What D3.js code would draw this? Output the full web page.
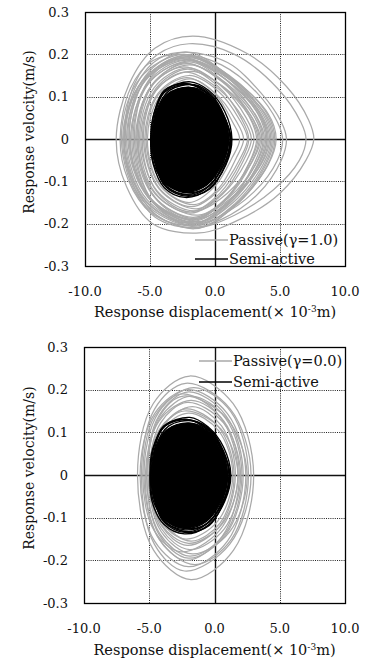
<!DOCTYPE html>
<html><head><meta charset="utf-8">
<script src="https://cdn.jsdelivr.net/npm/d3@7"></script>
<style>
body{margin:0;background:#fff}
svg{display:block}
text{font-family:"DejaVu Serif","Liberation Serif",serif;fill:#111}
</style>
</head><body>
<svg id="c" width="369" height="664"></svg>
<script>
// ---------- data (displacement x10^-3 m, velocity m/s) ----------
const xTicks = [-10, -5, 0, 5, 10];
const xTickLabels = ["-10.0", "-5.0", "0.0", "5.0", "10.0"];
const yTicks = [0.3, 0.2, 0.1, 0, -0.1, -0.2, -0.3];
const yTickLabels = ["0.3", "0.2", "0.1", "0", "-0.1", "-0.2", "-0.3"];
const xTitle = "Response displacement(";
const yTitle = "Response velocity(m/s)";
const legendTop = ["Passive(γ=1.0)", "Semi-active"];
const legendBottom = ["Passive(γ=0.0)", "Semi-active"];

// Passive (gamma = 1.0) orbit loops, top panel
const topPassiveLoops = [
  [[-7.6,0],[-6.6,0.13],[-4.6,0.215],[-1.7,0.243],[2.4,0.203],[5.5,0.124],[7.2,0.045],[7.6,0],[7.0,-0.05],[5.0,-0.128],[1.9,-0.19],[-1.2,-0.222],[-4.8,-0.2],[-6.8,-0.113]],
  [[-7.0,0],[-6.2,0.13],[-4.4,0.2],[-2.0,0.225],[1.5,0.2],[4.8,0.12],[6.6,0.04],[7.0,0],[6.5,-0.05],[4.5,-0.12],[1.5,-0.18],[-1.5,-0.21],[-4.6,-0.185],[-6.4,-0.1]],
  [[-7.0,0],[-6.0,0.13],[-4.3,0.19],[-2.2,0.205],[1.0,0.18],[3.5,0.11],[5.1,0.04],[5.5,0],[5.1,-0.05],[3.3,-0.13],[0.5,-0.19],[-1.8,-0.21],[-4.5,-0.18],[-6.3,-0.1]],
  [[-7.3,0],[-6.5,0.12],[-4.8,0.185],[-2.5,0.2],[0.5,0.175],[3.2,0.11],[4.8,0.04],[5.2,0],[4.8,-0.05],[3.0,-0.125],[0.2,-0.185],[-2.0,-0.205],[-4.9,-0.175],[-6.7,-0.095]],
  [[-7.2,0],[-5.76,0.144],[-2.4,0.2],[1.1,0.15],[4.0,0.06],[4.6,0],[4.0,-0.064],[1.5,-0.159],[-1.6,-0.212],[-5.52,-0.153]],
  [[-7.0,0],[-5.5,0.14],[-2.0,0.195],[1.2,0.146],[3.8,0.059],[4.4,0],[3.8,-0.062],[1.5,-0.154],[-1.4,-0.205],[-5.32,-0.148]],
  [[-6.9,0],[-5.61,0.137],[-2.6,0.19],[0.75,0.143],[3.5,0.057],[4.1,0],[3.5,-0.06],[1.15,-0.15],[-1.8,-0.2],[-5.37,-0.144]],
  [[-6.6,0],[-5.28,0.143],[-2.2,0.198],[0.85,0.149],[3.3,0.059],[3.9,0],[3.3,-0.059],[1.35,-0.146],[-1.2,-0.195],[-4.98,-0.14]],
  [[-6.5,0],[-5.09,0.133],[-1.8,0.185],[1.2,0.139],[3.6,0.056],[4.2,0],[3.6,-0.057],[1.1,-0.143],[-2.0,-0.19],[-5.15,-0.137]],
  [[-6.3,0],[-5.13,0.13],[-2.4,0.18],[0.6,0.135],[3.0,0.054],[3.6,0],[3.0,-0.059],[1.05,-0.149],[-1.5,-0.198],[-4.86,-0.143]],
  [[-6.1,0],[-4.87,0.126],[-2.0,0.175],[0.9,0.131],[3.2,0.053],[3.8,0],[3.2,-0.056],[1.05,-0.139],[-1.7,-0.185],[-4.78,-0.133]],
  [[-6.0,0],[-4.95,0.122],[-2.5,0.17],[0.4,0.128],[2.7,0.051],[3.3,0],[2.7,-0.054],[1.0,-0.135],[-1.3,-0.18],[-4.59,-0.13]],
  [[-5.8,0],[-4.69,0.121],[-2.1,0.168],[0.45,0.126],[2.4,0.05],[3.0,0],[2.4,-0.053],[0.55,-0.131],[-1.9,-0.175],[-4.63,-0.126]],
  [[-5.7,0],[-4.56,0.115],[-1.9,0.16],[0.8,0.12],[2.9,0.048],[3.5,0],[2.9,-0.051],[0.95,-0.128],[-1.6,-0.17],[-4.47,-0.122]],
  [[-5.5,0],[-4.54,0.114],[-2.3,0.158],[0.25,0.119],[2.2,0.047],[2.8,0],[2.2,-0.05],[0.7,-0.124],[-1.4,-0.165],[-4.27,-0.119]],
  [[-5.4,0],[-4.38,0.108],[-2.0,0.15],[0.25,0.113],[1.9,0.045],[2.5,0],[1.9,-0.048],[0.35,-0.12],[-1.8,-0.16],[-4.32,-0.115]],
  [[-5.3,0],[-4.37,0.104],[-2.2,0.145],[0.0,0.109],[1.6,0.044],[2.2,0],[1.6,-0.047],[0.3,-0.116],[-1.6,-0.155],[-4.19,-0.112]],
  [[-5.2,0],[-4.21,0.102],[-1.9,0.142],[0.0,0.107],[1.3,0.043],[1.9,0],[1.3,-0.045],[-0.05,-0.113],[-2.0,-0.15],[-4.24,-0.108]],
  [[-6.7,0],[-5.38,0.148],[-2.3,0.205],[0.85,0.154],[3.4,0.062],[4.0,0],[3.4,-0.057],[1.25,-0.143],[-1.5,-0.19],[-5.14,-0.137]],
  [[-7.1,0],[-5.6,0.135],[-2.1,0.188],[0.8,0.141],[3.1,0.056],[3.7,0],[3.1,-0.061],[0.9,-0.152],[-1.9,-0.203],[-5.54,-0.146]],
  [[-6.2,0],[-5.12,0.138],[-2.6,0.192],[0.95,0.144],[3.9,0.058],[4.5,0],[3.9,-0.062],[1.6,-0.156],[-1.3,-0.208],[-4.73,-0.15]],
  [[-5.9,0],[-4.73,0.131],[-2.0,0.182],[0.6,0.137],[2.6,0.055],[3.2,0],[2.6,-0.058],[0.75,-0.144],[-1.7,-0.192],[-4.64,-0.138]],
  [[-6.8,0],[-5.36,0.138],[-2.0,0.192],[1.15,0.144],[3.7,0.058],[4.3,0],[3.7,-0.06],[1.4,-0.15],[-1.5,-0.2],[-5.21,-0.144]],
  [[-6.4,0],[-5.17,0.134],[-2.3,0.186],[0.85,0.14],[3.4,0.056],[4.0,0],[3.4,-0.059],[1.1,-0.146],[-1.8,-0.195],[-5.02,-0.14]],
  [[-6.0,0],[-4.86,0.128],[-2.2,0.178],[0.6,0.134],[2.8,0.053],[3.4,0],[2.8,-0.056],[0.9,-0.141],[-1.6,-0.188],[-4.68,-0.135]],
  [[-5.6,0],[-4.55,0.119],[-2.1,0.165],[0.25,0.124],[2.0,0.05],[2.6,0],[2.0,-0.052],[0.35,-0.129],[-1.9,-0.172],[-4.49,-0.124]],
  [[-6.6,0],[-5.37,0.141],[-2.5,0.196],[1.1,0.147],[4.1,0.059],[4.7,0],[4.1,-0.06],[1.75,-0.15],[-1.2,-0.2],[-4.98,-0.144]]
];
// Semi-active orbit loops, top panel (first one is the dense core)
const topSemiLoops = [
  [[-4.8,0],[-4.55,0.055],[-3.7,0.105],[-1.95,0.122],[-0.6,0.104],[0.55,0.058],[1.05,0],[0.6,-0.055],[-0.6,-0.108],[-2.2,-0.125],[-3.8,-0.105],[-4.6,-0.055]],
  [[-4.95,0],[-4.7,0.06],[-3.8,0.115],[-1.9,0.135],[-0.5,0.115],[0.75,0.065],[1.3,0],[0.85,-0.06],[-0.5,-0.118],[-2.3,-0.138],[-3.9,-0.115],[-4.75,-0.06]],
  [[-4.85,0],[-4.6,0.06],[-3.9,0.11],[-2.1,0.13],[-0.6,0.11],[0.6,0.06],[1.2,0],[0.7,-0.06],[-0.6,-0.115],[-2.0,-0.133],[-3.7,-0.112],[-4.65,-0.055]],
  [[-4.7,0],[-4.5,0.065],[-3.5,0.115],[-1.6,0.128],[-0.3,0.105],[0.7,0.055],[1.15,0],[0.6,-0.065],[-0.8,-0.118],[-2.5,-0.13],[-4.0,-0.105],[-4.6,-0.05]],
  [[-4.9,0],[-4.65,0.065],[-3.9,0.115],[-2.3,0.131],[-0.8,0.112],[0.5,0.06],[1.05,0],[0.65,-0.055],[-0.4,-0.11],[-1.9,-0.127],[-3.6,-0.11],[-4.7,-0.06]],
  [[-4.65,0],[-4.45,0.055],[-3.6,0.105],[-2.0,0.122],[-0.4,0.104],[0.7,0.05],[1.25,0],[0.8,-0.06],[-0.4,-0.118],[-2.2,-0.135],[-3.8,-0.112],[-4.5,-0.055]]
];
// Passive (gamma = 0.0) orbit loops, bottom panel
const bottomPassiveLoops = [
  [[-5.9,0],[-4.7,0.167],[-1.9,0.232],[1.43,0.167],[3.0,0],[1.46,-0.176],[-1.8,-0.245],[-4.67,-0.176]],
  [[-5.6,0],[-4.58,0.155],[-2.2,0.215],[1.2,0.155],[2.8,0],[1.17,-0.162],[-2.3,-0.225],[-4.61,-0.162]],
  [[-5.4,0],[-4.26,0.148],[-1.6,0.205],[1.26,0.148],[2.6,0],[1.29,-0.151],[-1.5,-0.21],[-4.23,-0.151]],
  [[-5.2,0],[-4.24,0.14],[-2.0,0.195],[0.86,0.14],[2.2,0],[0.86,-0.14],[-2.0,-0.195],[-4.24,-0.14]],
  [[-5.1,0],[-4.29,0.133],[-2.4,0.185],[0.93,0.133],[2.5,0],[1.16,-0.133],[-1.7,-0.185],[-4.08,-0.133]],
  [[-5.3,0],[-4.25,0.126],[-1.8,0.175],[0.72,0.126],[1.9,0],[0.59,-0.144],[-2.2,-0.2],[-4.37,-0.144]],
  [[-5.0,0],[-4.13,0.122],[-2.1,0.17],[0.69,0.122],[2.0,0],[0.75,-0.126],[-1.9,-0.175],[-4.07,-0.126]],
  [[-4.9,0],[-3.94,0.115],[-1.7,0.16],[0.54,0.115],[1.6,0],[0.42,-0.119],[-2.1,-0.165],[-4.06,-0.119]],
  [[-5.5,0],[-4.6,0.137],[-2.5,0.19],[0.42,0.137],[1.8,0],[0.39,-0.13],[-2.6,-0.18],[-4.63,-0.13]],
  [[-4.8,0],[-4.02,0.112],[-2.2,0.155],[0.32,0.112],[1.5,0],[0.44,-0.112],[-1.8,-0.155],[-3.9,-0.112]],
  [[-5.7,0],[-4.59,0.144],[-2.0,0.2],[0.99,0.144],[2.4,0],[0.99,-0.155],[-2.0,-0.215],[-4.59,-0.155]],
  [[-5.0,0],[-4.19,0.108],[-2.3,0.15],[0.49,0.108],[1.8,0],[0.58,-0.115],[-2.0,-0.16],[-4.1,-0.115]],
  [[-5.2,0],[-4.18,0.133],[-1.8,0.185],[0.85,0.133],[2.1,0],[0.82,-0.137],[-1.9,-0.19],[-4.21,-0.137]],
  [[-4.95,0],[-4.07,0.104],[-2.0,0.145],[0.31,0.104],[1.4,0],[0.25,-0.108],[-2.2,-0.15],[-4.13,-0.108]]
];
// Semi-active orbit loops, bottom panel (first one is the dense core)
const bottomSemiLoops = [
  [[-4.8,0],[-4.55,0.055],[-3.7,0.105],[-1.95,0.122],[-0.6,0.104],[0.5,0.058],[1.0,0],[0.6,-0.055],[-0.6,-0.108],[-2.2,-0.125],[-3.8,-0.105],[-4.6,-0.055]],
  [[-4.95,0],[-4.75,0.06],[-3.8,0.115],[-1.9,0.135],[-0.5,0.113],[0.7,0.065],[1.25,0],[0.8,-0.06],[-0.5,-0.118],[-2.3,-0.138],[-3.9,-0.115],[-4.8,-0.06]],
  [[-4.85,0],[-4.6,0.06],[-3.9,0.112],[-2.1,0.13],[-0.6,0.11],[0.6,0.06],[1.15,0],[0.7,-0.06],[-0.6,-0.115],[-2.0,-0.133],[-3.7,-0.112],[-4.65,-0.055]],
  [[-4.7,0],[-4.5,0.065],[-3.5,0.115],[-1.7,0.127],[-0.3,0.105],[0.7,0.055],[1.1,0],[0.6,-0.065],[-0.8,-0.118],[-2.4,-0.128],[-4.0,-0.105],[-4.6,-0.05]],
  [[-4.9,0],[-4.65,0.065],[-3.9,0.115],[-2.3,0.131],[-0.8,0.112],[0.5,0.06],[1.0,0],[0.65,-0.055],[-0.4,-0.11],[-1.9,-0.126],[-3.6,-0.11],[-4.7,-0.06]],
  [[-4.6,0],[-4.4,0.055],[-3.6,0.105],[-2.0,0.121],[-0.4,0.104],[0.7,0.05],[1.2,0],[0.75,-0.06],[-0.4,-0.118],[-2.2,-0.135],[-3.8,-0.112],[-4.5,-0.055]]
];

// ---------- drawing ----------
const svg = d3.select("#c");
const GRAY = "#a9a9a9";

function panel(cfg, id) {
  const {left, right, top, bottom, passive, semi, legend, legX, legY1, legY2, tickY, titleY, yLabX, yLabY} = cfg;
  const x = d3.scaleLinear().domain([-10, 10]).range([left, right]);
  const y = d3.scaleLinear().domain([-0.3, 0.3]).range([bottom, top]);
  const g = svg.append("g");

  g.append("clipPath").attr("id", "clip" + id)
    .append("rect").attr("x", left).attr("y", top).attr("width", right - left).attr("height", bottom - top);

  // dotted grid
  const grid = g.append("g").attr("stroke", "#222").attr("stroke-width", 1).attr("stroke-dasharray", "1,1.2");
  grid.selectAll("line.gx").data(xTicks.filter(d => d !== 0 && Math.abs(d) !== 10)).join("line")
    .attr("x1", d => Math.round(x(d)) + 0.5).attr("x2", d => Math.round(x(d)) + 0.5)
    .attr("y1", top).attr("y2", bottom);
  grid.selectAll("line.gy").data(yTicks.filter(d => d !== 0 && Math.abs(d) !== 0.3)).join("line")
    .attr("y1", d => Math.round(y(d)) + 0.5).attr("y2", d => Math.round(y(d)) + 0.5)
    .attr("x1", left).attr("x2", right);

  // zero axes
  g.append("line").attr("x1", Math.round(x(0)) + 0.5).attr("x2", Math.round(x(0)) + 0.5)
    .attr("y1", top).attr("y2", bottom).attr("stroke", "#111").attr("stroke-width", 1.4);
  g.append("line").attr("y1", Math.round(y(0)) + 0.5).attr("y2", Math.round(y(0)) + 0.5)
    .attr("x1", left).attr("x2", right).attr("stroke", "#111").attr("stroke-width", 1.4);

  const line = d3.line().x(d => x(d[0])).y(d => y(d[1])).curve(d3.curveCatmullRomClosed.alpha(0.5));
  const plot = g.append("g").attr("clip-path", `url(#clip${id})`);
  plot.selectAll("path.p").data(passive).join("path").attr("class", "p")
    .attr("d", line).attr("fill", "none").attr("stroke", GRAY).attr("stroke-width", 1.25);
  plot.selectAll("path.s").data(semi).join("path").attr("class", "s")
    .attr("d", line).attr("fill", (d, i) => i === 0 ? "#000" : "none")
    .attr("stroke", "#000").attr("stroke-width", 1.4);

  // frame
  g.append("rect").attr("x", left + 0.5).attr("y", top + 0.5)
    .attr("width", right - left).attr("height", bottom - top)
    .attr("fill", "none").attr("stroke", "#000").attr("stroke-width", 1.3);

  // legend
  g.append("line").attr("x1", legX - 34).attr("x2", legX - 1).attr("y1", legY1 - 5).attr("y2", legY1 - 5)
    .attr("stroke", GRAY).attr("stroke-width", 1.5);
  g.append("line").attr("x1", legX - 34).attr("x2", legX - 1).attr("y1", legY2 - 5).attr("y2", legY2 - 5)
    .attr("stroke", "#000").attr("stroke-width", 1.6);
  g.append("text").attr("x", legX).attr("y", legY1).attr("font-size", 14.5).text(legend[0]);
  g.append("text").attr("x", legX).attr("y", legY2).attr("font-size", 14.5).text(legend[1]);

  // tick labels
  g.selectAll("text.yt").data(yTicks).join("text").attr("class", "yt")
    .attr("x", left - 16).attr("y", d => y(d)).attr("dy", "0.36em")
    .attr("text-anchor", "end").attr("font-size", 13)
    .text((d, i) => yTickLabels[i]);
  g.selectAll("text.xt").data(xTicks).join("text").attr("class", "xt")
    .attr("x", d => x(d)).attr("y", tickY)
    .attr("text-anchor", "middle").attr("font-size", 13)
    .text((d, i) => xTickLabels[i]);

  // axis titles
  const t = g.append("text").attr("x", (left + right) / 2).attr("y", titleY)
    .attr("text-anchor", "middle").attr("font-size", 14.5);
  t.append("tspan").text(xTitle);
  t.append("tspan").text("× 10");
  t.append("tspan").attr("font-size", 9).attr("dy", -5).text("-3");
  t.append("tspan").attr("dy", 5).text("m)");

  g.append("text").attr("transform", `translate(${yLabX},${yLabY}) rotate(-90)`)
    .attr("text-anchor", "middle").attr("font-size", 14).text(yTitle);
}

panel({left: 85, right: 345, top: 12, bottom: 266,
  passive: topPassiveLoops, semi: topSemiLoops, legend: legendTop,
  legX: 229, legY1: 245, legY2: 264, tickY: 296, titleY: 317, yLabX: 34, yLabY: 132}, 1);
panel({left: 84, right: 345, top: 347, bottom: 603,
  passive: bottomPassiveLoops, semi: bottomSemiLoops, legend: legendBottom,
  legX: 233, legY1: 366, legY2: 387, tickY: 633, titleY: 655, yLabX: 34, yLabY: 468}, 2);
</script>
</body></html>
